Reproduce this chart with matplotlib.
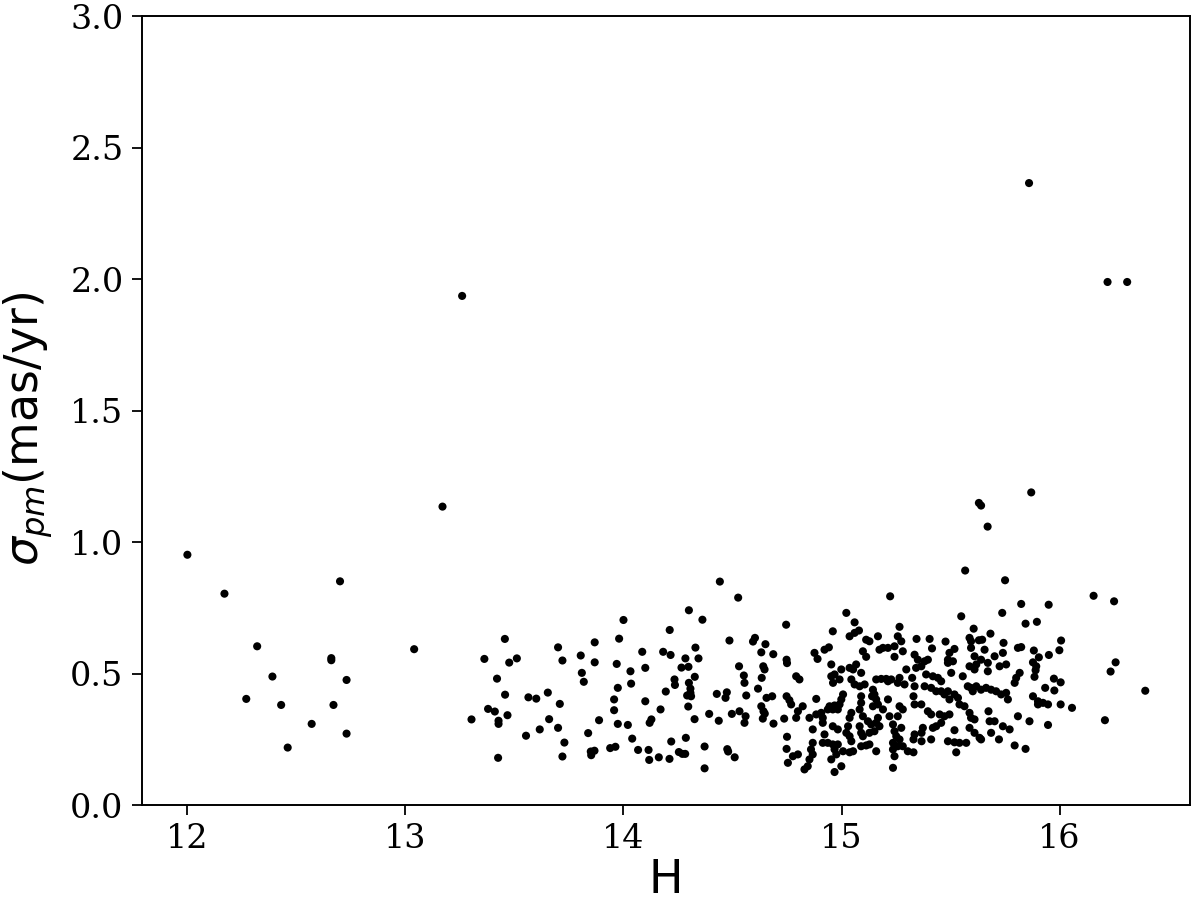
import matplotlib
matplotlib.use('Agg')
import matplotlib.pyplot as plt
import numpy as np

# H magnitude and proper-motion error
H = [
    12.0, 12.17, 13.26, 13.17, 15.86, 16.22, 16.31, 15.87, 15.63, 15.64, 15.67,
    12.32, 12.70, 13.04, 12.66, 12.66, 12.39, 12.73, 12.27, 12.43, 12.67, 12.57, 12.73, 12.46,
    13.456, 13.362, 13.476, 13.511, 13.42, 13.457, 13.564, 13.60, 13.653, 13.708, 13.379, 13.41,
    13.468, 13.427, 13.427, 13.303, 13.659, 13.616, 13.70, 13.553, 13.729, 13.425, 13.72, 13.70,
    13.72, 13.804, 13.868, 13.868, 13.809, 13.818, 13.888, 13.838, 13.85, 13.867, 13.852, 13.939,
    13.963, 13.98, 13.969, 13.974, 13.957, 13.957, 13.974,
    14.0, 14.02, 14.032, 14.035, 14.04, 14.067, 14.086, 14.10, 14.10, 14.115, 14.118, 14.12,
    14.128, 14.162, 14.17, 14.182, 14.194, 14.212, 14.216, 14.211, 14.219, 14.234, 14.236, 14.254,
    14.27, 14.283, 14.266, 14.284, 14.286, 14.298, 14.30, 14.33, 14.344, 14.327, 14.30, 14.307,
    14.292, 14.31, 14.297, 14.307, 14.326, 14.362, 14.372, 14.372, 14.393, 14.428, 14.437, 14.442,
    14.474, 14.468, 14.476, 14.48, 14.486, 14.497, 14.51, 14.526, 14.53, 14.532, 14.552, 14.555,
    14.563, 14.56, 14.555, 14.594, 14.603, 14.617, 14.634, 14.632, 14.641, 14.647, 14.651, 14.656,
    14.682, 14.632, 14.642, 14.639, 14.648, 14.687, 14.688, 14.737, 14.746, 14.748, 14.748, 14.75,
    14.748, 14.754,
    14.75, 14.761, 14.769, 14.792, 14.807, 14.822, 14.80, 14.792, 14.777, 14.80, 14.83, 14.845,
    14.853, 14.868, 14.86, 14.868, 14.868, 14.853, 14.884, 14.907, 14.914, 14.884, 14.876, 14.89,
    14.922, 14.942, 14.96, 14.953, 14.953, 14.968, 14.999, 14.991, 14.961, 14.945, 14.968, 14.991,
    14.937, 14.96, 14.983, 14.914, 14.96, 14.983, 14.922, 14.914, 14.937, 14.96, 14.983, 14.968,
    14.953, 14.976, 14.968, 14.999, 15.007, 15.037, 15.053, 15.022, 15.06, 15.037, 15.06, 15.08,
    15.037, 15.053, 15.067, 15.09, 15.045, 15.06, 15.083, 15.106, 15.007, 14.999, 15.045, 15.037,
    15.03, 15.022, 15.037, 15.045, 15.09, 15.09, 15.083, 15.098, 15.083, 15.09, 15.098, 15.09,
    15.113, 15.128, 15.113, 15.128, 15.098, 15.113, 15.144, 15.14, 15.151, 15.159, 15.167, 15.144,
    15.121, 15.136, 15.159, 15.167, 15.174, 15.128, 15.151, 15.159, 15.167, 15.174, 15.19, 15.159,
    15.182, 15.205, 15.213, 15.19, 15.213, 15.213, 15.243, 15.243, 15.223, 15.258, 15.274, 15.281,
    15.266, 15.228, 15.258, 15.266, 15.289, 15.297, 15.22, 15.236, 15.243, 15.251, 15.258, 15.236,
    15.243, 15.236, 15.236, 15.266, 15.281, 15.258, 15.274, 15.266, 15.281,
    15.567, 15.75, 15.824, 15.737, 15.549, 15.844, 15.606, 15.683, 15.645, 15.63, 15.587, 15.594,
    15.743, 15.344, 15.404, 15.415, 15.477, 15.518, 15.495, 15.488, 15.335, 15.35, 15.366, 15.381,
    15.396, 15.324, 15.342, 15.388, 15.419, 15.442, 15.457, 15.503, 15.556, 15.488, 15.511, 15.594,
    15.61, 15.618, 15.587, 15.61, 15.64, 15.671, 15.702, 15.725, 15.755, 15.74, 15.656, 15.671,
    15.817, 15.801, 15.794, 15.809, 15.824, 15.335, 15.381, 15.411, 15.434, 15.457, 15.472, 15.488,
    15.495, 15.518, 15.534, 15.541, 15.564, 15.579, 15.594, 15.602, 15.618, 15.64, 15.663, 15.686,
    15.709, 15.732, 15.755, 15.763, 15.33, 15.335, 15.366, 15.396, 15.411, 15.45, 15.472, 15.495,
    15.457, 15.434, 15.419, 15.373, 15.367, 15.335, 15.33, 15.367, 15.411, 15.304, 15.33, 15.518,
    15.488, 15.518, 15.541, 15.572, 15.526, 15.587, 15.594, 15.61, 15.587, 15.61, 15.633, 15.64,
    15.674, 15.679, 15.702, 15.686, 15.722, 15.74, 15.771, 15.809, 15.794, 15.844, 15.862,
    16.156, 16.25, 15.95, 15.896, 16.007, 15.999, 15.882, 15.905, 15.951, 15.878, 15.893, 15.89,
    15.885, 16.257, 16.234, 15.974, 16.005, 15.934, 15.976, 16.393, 15.878, 15.901, 15.901, 15.924,
    15.947, 16.005, 16.057, 15.947, 16.208,
]
sigma_pm = [
    0.953, 0.805, 1.937, 1.136, 2.366, 1.99, 1.99, 1.19, 1.15, 1.14, 1.06,
    0.605, 0.852, 0.594, 0.56, 0.552, 0.49, 0.477, 0.405, 0.382, 0.382, 0.31, 0.273, 0.22,
    0.633, 0.557, 0.543, 0.559, 0.482, 0.421, 0.411, 0.406, 0.429, 0.386, 0.367, 0.357,
    0.343, 0.322, 0.31, 0.327, 0.328, 0.289, 0.295, 0.265, 0.239, 0.181, 0.186, 0.601,
    0.551, 0.57, 0.62, 0.544, 0.504, 0.47, 0.324, 0.275, 0.205, 0.208, 0.191, 0.218,
    0.223, 0.634, 0.538, 0.447, 0.403, 0.362, 0.31,
    0.705, 0.306, 0.51, 0.463, 0.254, 0.211, 0.584, 0.523, 0.396, 0.211, 0.173, 0.314,
    0.327, 0.183, 0.365, 0.584, 0.433, 0.667, 0.572, 0.177, 0.243, 0.479, 0.458, 0.203,
    0.196, 0.196, 0.524, 0.559, 0.257, 0.527, 0.742, 0.60, 0.559, 0.489, 0.466, 0.444,
    0.418, 0.415, 0.376, 0.428, 0.328, 0.706, 0.224, 0.141, 0.348, 0.424, 0.322, 0.851,
    0.43, 0.409, 0.214, 0.205, 0.627, 0.348, 0.183, 0.79, 0.529, 0.358, 0.494, 0.466,
    0.418, 0.339, 0.314, 0.623, 0.637, 0.444, 0.485, 0.582, 0.529, 0.517, 0.613, 0.409,
    0.415, 0.377, 0.358, 0.33, 0.349, 0.575, 0.311, 0.33, 0.687, 0.554, 0.415, 0.261,
    0.215, 0.162,
    0.541, 0.40, 0.384, 0.491, 0.479, 0.377, 0.358, 0.333, 0.187, 0.194, 0.137, 0.149,
    0.175, 0.194, 0.213, 0.238, 0.289, 0.333, 0.346, 0.352, 0.333, 0.405, 0.58, 0.557,
    0.592, 0.601, 0.662, 0.536, 0.491, 0.498, 0.517, 0.479, 0.466, 0.377, 0.38, 0.384,
    0.365, 0.365, 0.365, 0.314, 0.301, 0.289, 0.27, 0.238, 0.238, 0.232, 0.232, 0.213,
    0.175, 0.194, 0.127, 0.149, 0.206, 0.202, 0.206, 0.732, 0.696, 0.643, 0.656, 0.665,
    0.523, 0.517, 0.536, 0.504, 0.479, 0.46, 0.453, 0.46, 0.422, 0.403, 0.352, 0.333,
    0.301, 0.276, 0.263, 0.244, 0.415, 0.39, 0.365, 0.339, 0.301, 0.276, 0.263, 0.225,
    0.228, 0.232, 0.63, 0.624, 0.586, 0.565, 0.44, 0.415, 0.422, 0.403, 0.384, 0.377,
    0.32, 0.308, 0.314, 0.333, 0.301, 0.276, 0.282, 0.206, 0.643, 0.592, 0.599, 0.479,
    0.481, 0.481, 0.472, 0.365, 0.403, 0.599, 0.605, 0.565, 0.795, 0.643, 0.624, 0.586,
    0.679, 0.479, 0.466, 0.485, 0.46, 0.517, 0.339, 0.308, 0.282, 0.263, 0.225, 0.213,
    0.187, 0.238, 0.143, 0.377, 0.365, 0.339, 0.295, 0.251, 0.225,
    0.893, 0.856, 0.766, 0.732, 0.719, 0.691, 0.672, 0.653, 0.63, 0.628, 0.637, 0.624,
    0.618, 0.633, 0.633, 0.597, 0.623, 0.595, 0.58, 0.554, 0.573, 0.554, 0.529, 0.548,
    0.554, 0.485, 0.523, 0.498, 0.491, 0.485, 0.472, 0.504, 0.491, 0.542, 0.548, 0.599,
    0.567, 0.536, 0.529, 0.517, 0.554, 0.542, 0.567, 0.529, 0.536, 0.58, 0.592, 0.51,
    0.504, 0.485, 0.466, 0.599, 0.602, 0.453, 0.453, 0.447, 0.434, 0.434, 0.422, 0.434,
    0.403, 0.422, 0.409, 0.384, 0.377, 0.453, 0.447, 0.434, 0.453, 0.44, 0.447, 0.44,
    0.434, 0.422, 0.428, 0.403, 0.415, 0.384, 0.384, 0.358, 0.346, 0.346, 0.339, 0.346,
    0.314, 0.301, 0.295, 0.295, 0.276, 0.27, 0.251, 0.244, 0.251, 0.206, 0.202, 0.286,
    0.244, 0.24, 0.238, 0.238, 0.202, 0.352, 0.333, 0.327, 0.295, 0.276, 0.257, 0.251,
    0.358, 0.32, 0.32, 0.276, 0.251, 0.301, 0.289, 0.339, 0.228, 0.215, 0.32,
    0.797, 0.776, 0.763, 0.698, 0.627, 0.59, 0.589, 0.563, 0.572, 0.544, 0.529, 0.514,
    0.489, 0.544, 0.509, 0.482, 0.468, 0.447, 0.437, 0.436, 0.415, 0.396, 0.384, 0.39,
    0.384, 0.384, 0.371, 0.306, 0.324,
]

x_ticks = [12, 13, 14, 15, 16]
y_ticks = [0.0, 0.5, 1.0, 1.5, 2.0, 2.5, 3.0]

fig = plt.figure(figsize=(12, 9.06), dpi=100)
ax = fig.add_axes([0.118, 0.111, 0.874, 0.871])

ax.scatter(H, sigma_pm, s=34, color='black', edgecolors='none')

ax.set_xlim(11.79, 16.6)
ax.set_ylim(0, 3.0)
ax.set_xticks(x_ticks)
ax.set_yticks(y_ticks)
ax.set_xticklabels([str(t) for t in x_ticks], family='DejaVu Serif', fontsize=24)
ax.set_yticklabels([f'{t:.1f}' for t in y_ticks], family='DejaVu Serif', fontsize=24)
ax.tick_params(length=7, width=1.3, pad=6)
for sp in ax.spines.values():
    sp.set_linewidth(1.4)

ax.set_xlabel('H', fontsize=33, labelpad=2)
ax.set_ylabel(r'$\sigma_{pm}$(mas/yr)', fontsize=33)
ax.yaxis.set_label_coords(-0.083, 0.477)

fig.savefig('out.png')
